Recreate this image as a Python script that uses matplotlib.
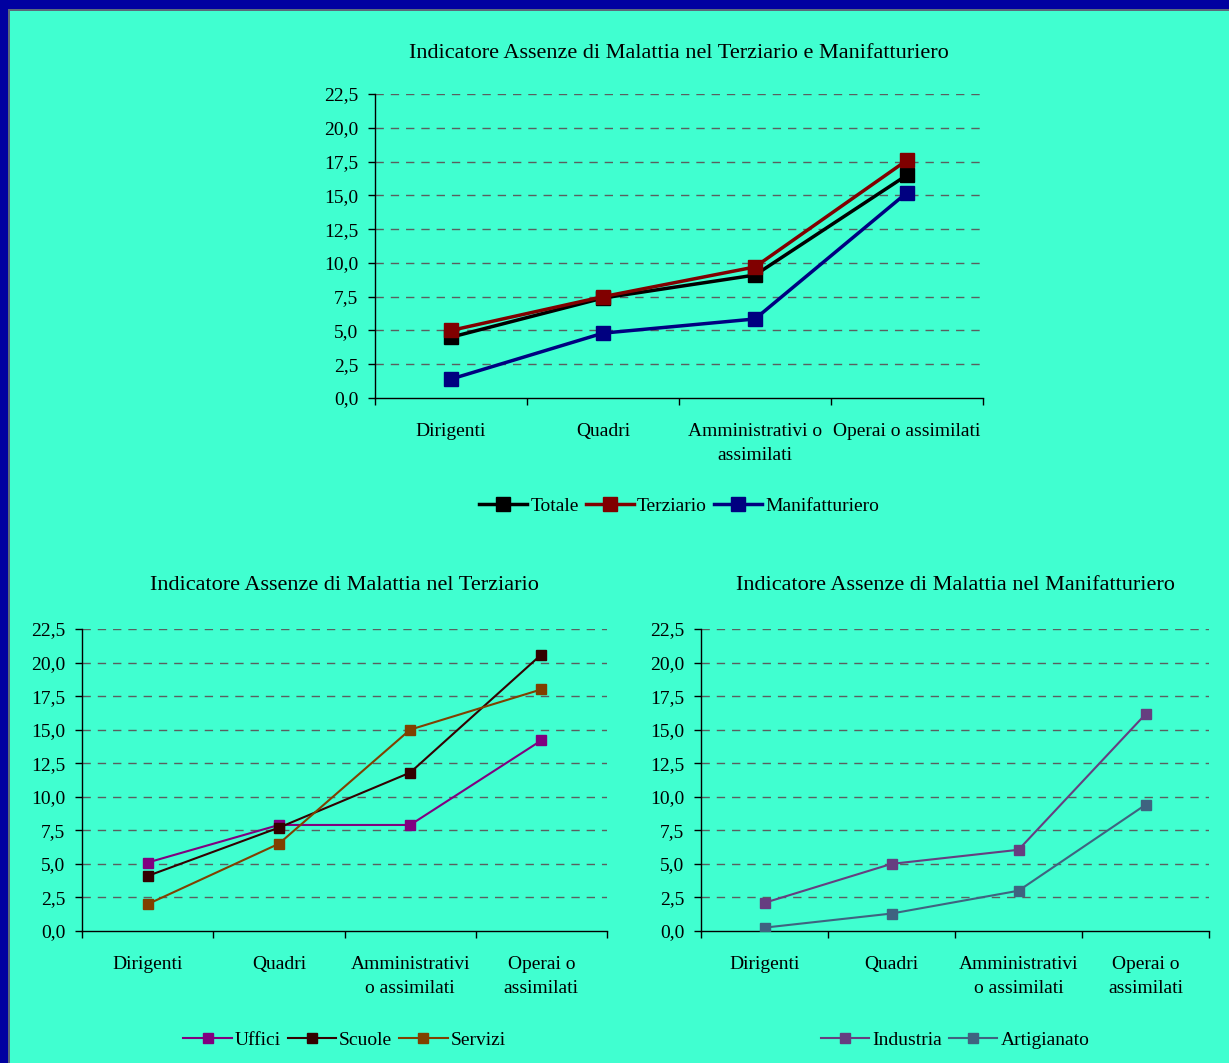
import matplotlib.pyplot as plt
from matplotlib.patches import Rectangle
from matplotlib.ticker import FuncFormatter

plt.rcParams['font.family'] = ['Liberation Serif', 'DejaVu Serif']

# === Data ===
categorie_top = ["Dirigenti", "Quadri", "Amministrativi o\nassimilati", "Operai o assimilati"]
categorie_bottom = ["Dirigenti", "Quadri", "Amministrativi\no assimilati", "Operai o\nassimilati"]

totale = [4.5, 7.4, 9.1, 16.5]
terziario = [5.0, 7.5, 9.7, 17.6]
manifatturiero = [1.4, 4.8, 5.85, 15.2]

uffici = [5.1, 7.9, 7.9, 14.2]
scuole = [4.1, 7.7, 11.8, 20.6]
servizi = [2.0, 6.5, 15.0, 18.0]

industria = [2.1, 5.0, 6.05, 16.15]
artigianato = [0.25, 1.3, 3.0, 9.4]

BG = '#40FFD0'
W, H = 1229, 1063


def fig_rect(x0, y0, x1, y1):
    # pixel box (top-left origin) -> figure fraction [left, bottom, width, height]
    return [x0 / W, 1 - y1 / H, (x1 - x0) / W, (y1 - y0) / H]


def setup_axes(ax, labels, title, title_pad):
    ax.set_facecolor(BG)
    ax.set_xlim(0, 4)
    ax.set_ylim(0, 22.5)
    ax.set_yticks([i * 2.5 for i in range(10)])
    ax.yaxis.set_major_formatter(FuncFormatter(lambda v, p: f"{v:.1f}".replace('.', ',')))
    ax.set_xticks([0, 1, 2, 3, 4])
    ax.set_xticklabels([])
    ax.set_xticks([0.5, 1.5, 2.5, 3.5], minor=True)
    ax.set_xticklabels(labels, minor=True, fontsize=14, linespacing=1.55)
    ax.tick_params(axis='x', which='minor', length=0, pad=18)
    ax.tick_params(axis='x', which='major', length=5, width=1, direction='out')
    ax.tick_params(axis='y', length=5, width=1, direction='out', labelsize=14, pad=7)
    for s in ('top', 'right'):
        ax.spines[s].set_visible(False)
    for s in ('left', 'bottom'):
        ax.spines[s].set_linewidth(1)
        ax.spines[s].set_color('black')
    for v in [i * 2.5 for i in range(1, 10)]:
        ax.axhline(v, color='#5a5f5f', lw=1, ls=(0, (6, 5)), zorder=1)
    ax.set_title(title, fontsize=16, pad=title_pad)


fig = plt.figure(figsize=(W / 100, H / 100), dpi=100)
fig.patch.set_facecolor('#0000A0')
fig.patches.append(Rectangle((8 / W, 0), 1, 1 - 9 / H, transform=fig.transFigure,
                             facecolor='#5a6a7a', edgecolor='none', zorder=-10))
fig.patches.append(Rectangle((10 / W, 0), 1, 1 - 11 / H, transform=fig.transFigure,
                             facecolor=BG, edgecolor='none', zorder=-9))

x = [0.5, 1.5, 2.5, 3.5]
leg_kw = dict(loc='upper center', frameon=False, fontsize=14, handlelength=2.5,
              handletextpad=0.15, columnspacing=0.35)

# === Top chart ===
ax1 = fig.add_axes(fig_rect(375, 94, 983, 398))
setup_axes(ax1, categorie_top, "Indicatore Assenze di Malattia nel Terziario e Manifatturiero", 26)
ax1.plot(x, totale, color='black', lw=2.5, marker='s', ms=10, label='Totale', zorder=3)
ax1.plot(x, terziario, color='#800000', lw=2.5, marker='s', ms=10, label='Terziario', zorder=4)
ax1.plot(x, manifatturiero, color='#000080', lw=2.5, marker='s', ms=10, label='Manifatturiero', zorder=3)
ax1.legend(bbox_to_anchor=(0.5, -0.27), ncol=3, **leg_kw)

# === Bottom left chart ===
ax2 = fig.add_axes(fig_rect(82, 629, 607, 931))
setup_axes(ax2, categorie_bottom, "Indicatore Assenze di Malattia nel Terziario", 28)
ax2.plot(x, uffici, color='#800080', lw=1.5, marker='s', ms=7, label='Uffici', zorder=3)
ax2.plot(x, scuole, color='#330000', lw=1.5, marker='s', ms=7, label='Scuole', zorder=3)
ax2.plot(x, servizi, color='#804000', lw=1.5, marker='s', ms=7, label='Servizi', zorder=3)
ax2.legend(bbox_to_anchor=(0.5, -0.275), ncol=3, **leg_kw)

# === Bottom right chart ===
ax3 = fig.add_axes(fig_rect(701, 629, 1209, 931))
setup_axes(ax3, categorie_bottom, "Indicatore Assenze di Malattia nel Manifatturiero", 28)
ax3.plot(x, industria, color='#663E80', lw=1.5, marker='s', ms=7, label='Industria', zorder=3)
ax3.plot(x, artigianato, color='#3F6380', lw=1.5, marker='s', ms=7, label='Artigianato', zorder=3)
ax3.legend(bbox_to_anchor=(0.5, -0.275), ncol=2, **leg_kw)

plt.savefig('out.png', dpi=100, facecolor=fig.get_facecolor())
